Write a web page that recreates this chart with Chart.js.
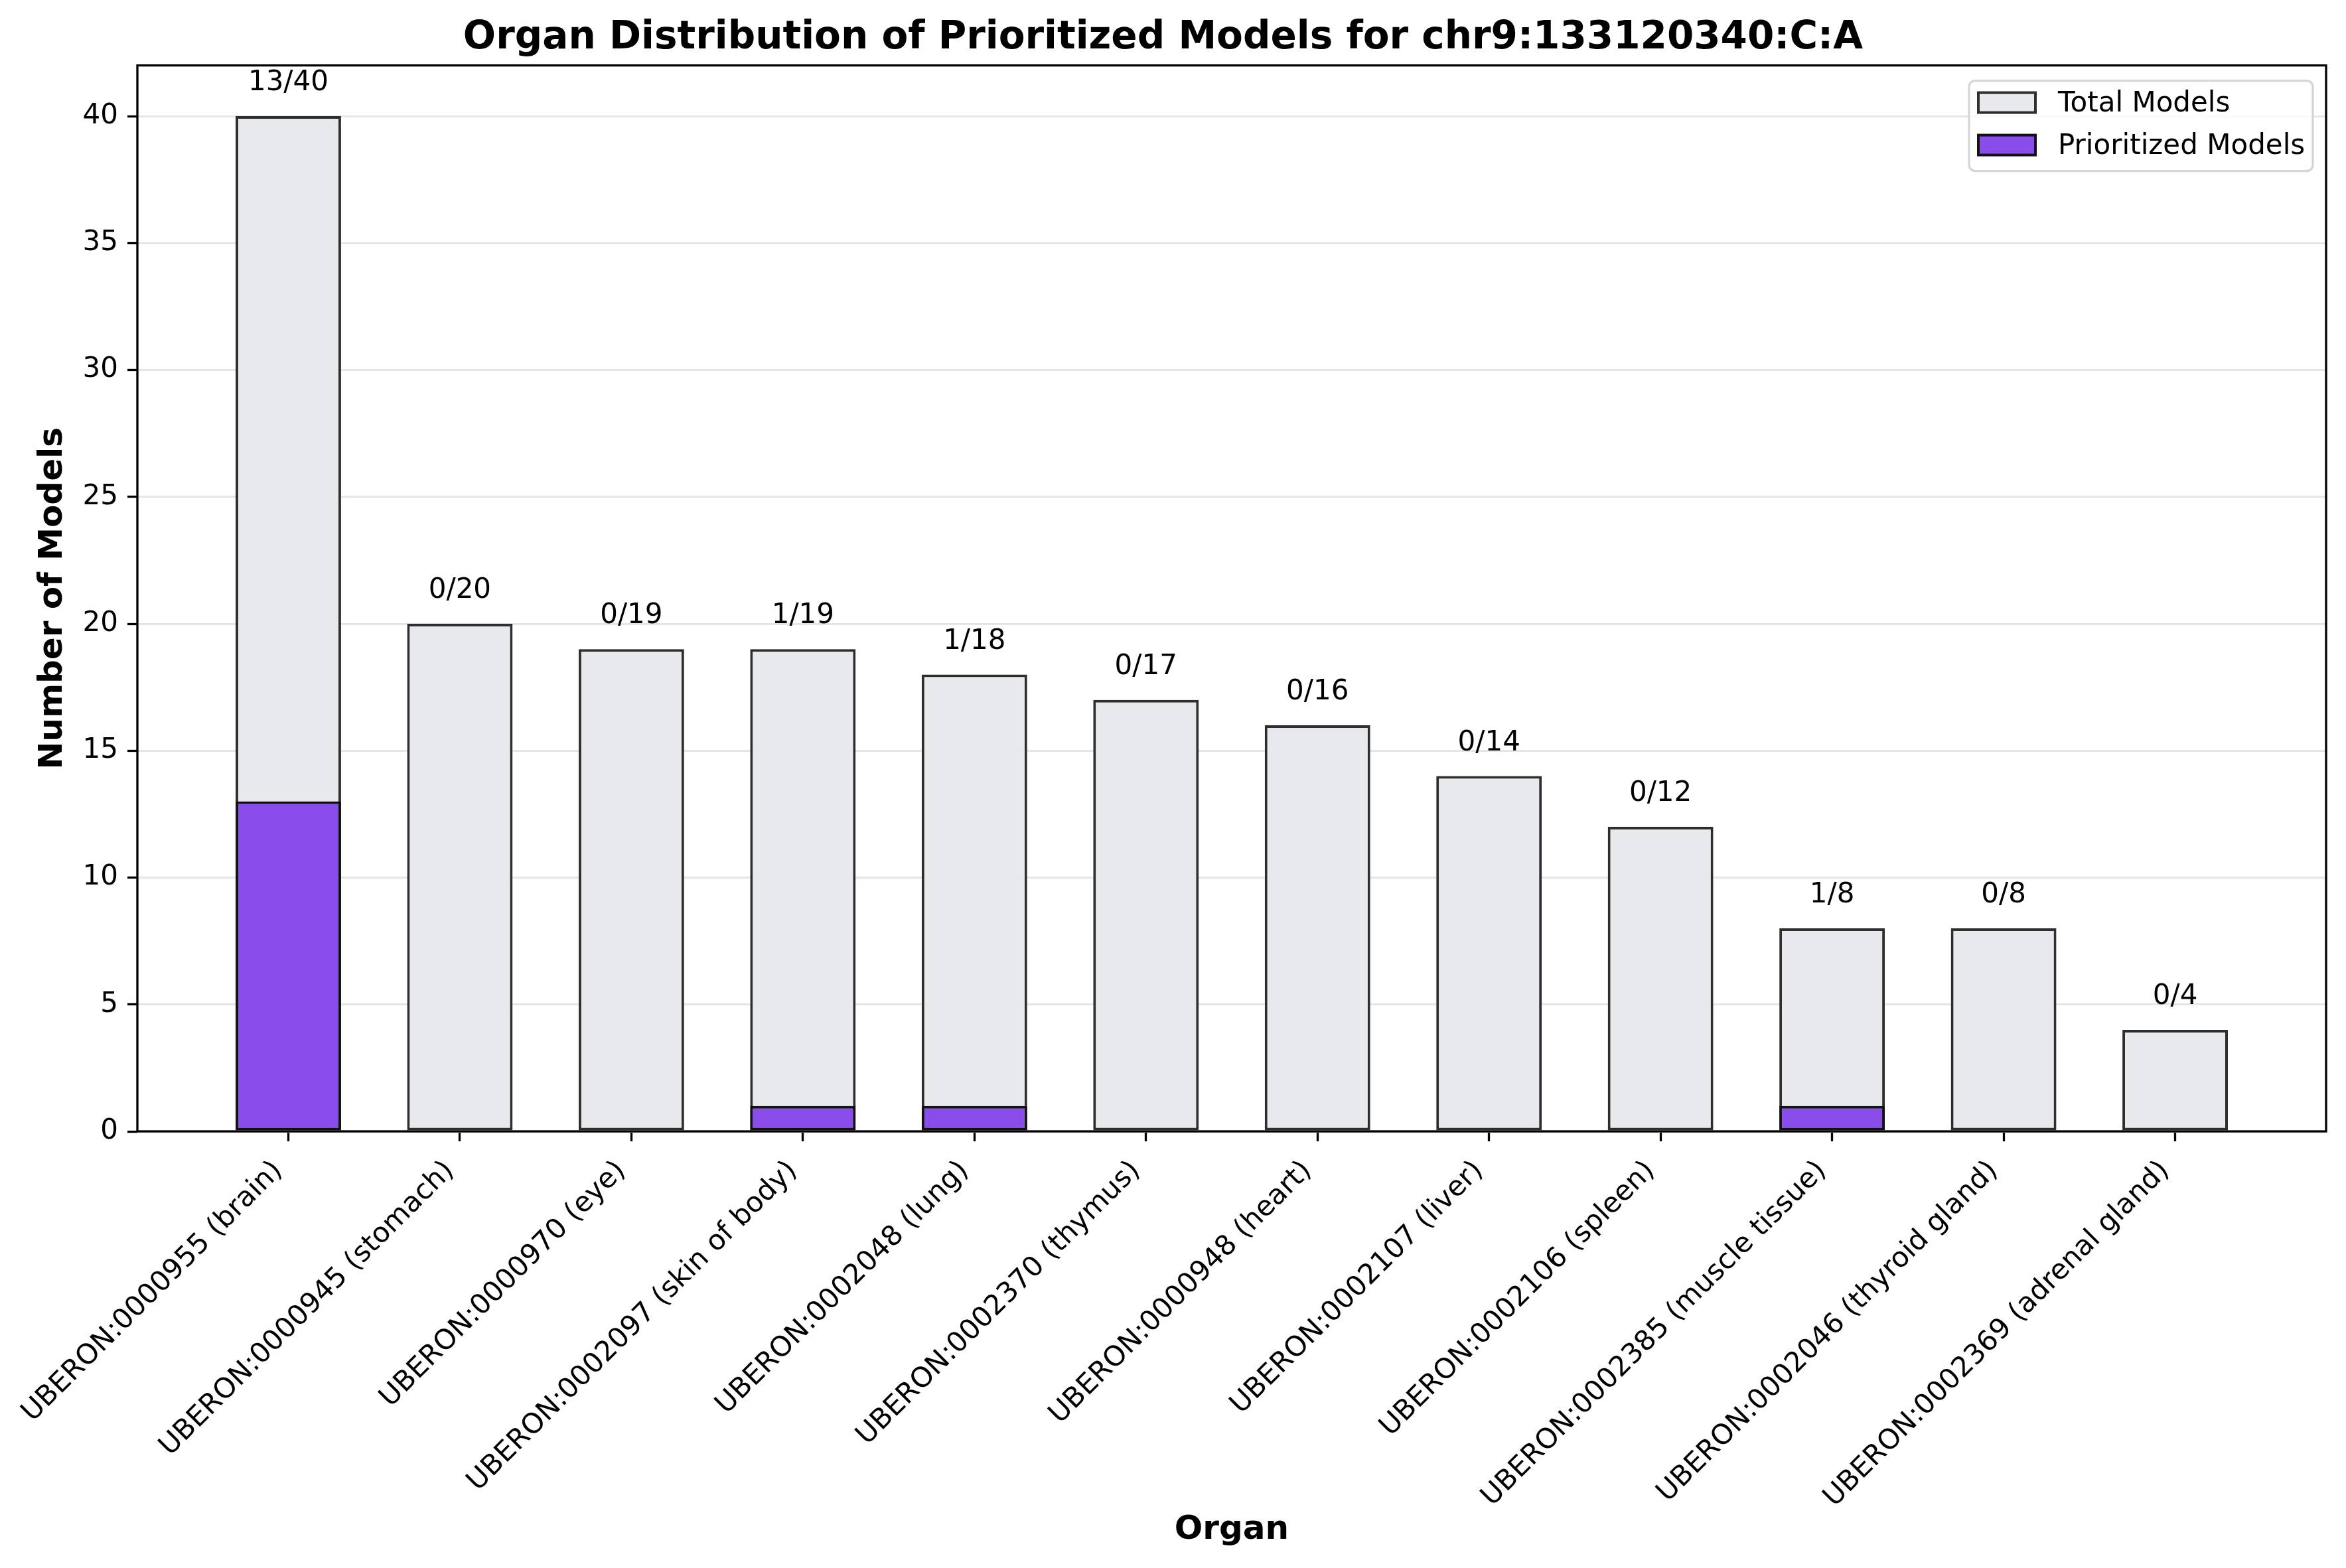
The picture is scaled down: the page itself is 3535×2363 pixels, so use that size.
<!DOCTYPE html>
<html>
<head>
<meta charset="utf-8">
<script src="https://cdn.jsdelivr.net/npm/chart.js@4"></script>
<style>
  html, body { margin: 0; padding: 0; background: #ffffff; }
  #wrap { width: 3535px; height: 2363px; }
</style>
</head>
<body>
<div id="wrap"><canvas id="c" width="3535" height="2363"></canvas></div>
<script>
// ---- data ----
const categories = [
  "UBERON:0000955 (brain)",
  "UBERON:0000945 (stomach)",
  "UBERON:0000970 (eye)",
  "UBERON:0002097 (skin of body)",
  "UBERON:0002048 (lung)",
  "UBERON:0002370 (thymus)",
  "UBERON:0000948 (heart)",
  "UBERON:0002107 (liver)",
  "UBERON:0002106 (spleen)",
  "UBERON:0002385 (muscle tissue)",
  "UBERON:0002046 (thyroid gland)",
  "UBERON:0002369 (adrenal gland)"
];
const totalModels = [40, 20, 19, 19, 18, 17, 16, 14, 12, 8, 8, 4];
const prioritizedModels = [13, 0, 0, 1, 1, 0, 0, 0, 0, 1, 0, 0];
const yTickValues = [0, 5, 10, 15, 20, 25, 30, 35, 40];
const seriesNames = ["Total Models", "Prioritized Models"];
const chartTitle = "Organ Distribution of Prioritized Models for chr9:133120340:C:A";
const xTitle = "Organ";
const yTitle = "Number of Models";

// ---- styles ----
const FONT = "'DejaVu Sans', 'Liberation Sans', sans-serif";
const GREY_FILL = "#e8e9ec";
const GREY_EDGE = "#2e2e2e";
const PURPLE_FILL = "#884deb";
const PURPLE_EDGE = "#141018";
const SPINE_W = 3.3;

const totalData = categories.map((c, i) => ({ x: i, y: totalModels[i] }));
const prioData = categories.map((c, i) => ({ x: i, y: prioritizedModels[i] }));

const valueLabels = {
  id: 'valueLabels',
  afterDatasetsDraw(chart) {
    const { ctx, scales: { x, y }, chartArea } = chart;
    ctx.save();
    // spines
    ctx.strokeStyle = '#000';
    ctx.lineWidth = SPINE_W;
    ctx.strokeRect(chartArea.left, chartArea.top, chartArea.right - chartArea.left, chartArea.bottom - chartArea.top);
    // bar labels
    ctx.fillStyle = '#000';
    ctx.font = "42px " + FONT;
    ctx.textAlign = 'center';
    ctx.textBaseline = 'alphabetic';
    categories.forEach((c, i) => {
      const px = x.getPixelForValue(i);
      const py = y.getPixelForValue(totalModels[i]) - 39;
      ctx.fillText(prioritizedModels[i] + "/" + totalModels[i], px, py);
    });
    ctx.restore();
  }
};

const boxLegend = {
  id: 'boxLegend',
  afterDraw(chart) {
    const { ctx, chartArea } = chart;
    const right = chartArea.right - 20;
    const left = right - 518;
    const top = chartArea.top + 23;
    const h = 136;
    ctx.save();
    ctx.beginPath();
    if (ctx.roundRect) ctx.roundRect(left, top, right - left, h, 9);
    else ctx.rect(left, top, right - left, h);
    ctx.fillStyle = 'rgba(255,255,255,0.8)';
    ctx.fill();
    ctx.lineWidth = 3.3;
    ctx.strokeStyle = '#d6d6d6';
    ctx.stroke();
    ctx.font = "42px " + FONT;
    ctx.textBaseline = 'middle';
    ctx.textAlign = 'left';
    chart.data.datasets.forEach((ds, i) => {
      const cy = top + 33 + i * 64;
      ctx.fillStyle = ds.backgroundColor;
      ctx.fillRect(left + 14, cy - 15, 86, 30);
      ctx.lineWidth = 4;
      ctx.strokeStyle = ds.borderColor;
      ctx.strokeRect(left + 14, cy - 15, 86, 30);
      ctx.fillStyle = '#000';
      ctx.fillText(ds.label, left + 134, cy + 2);
    });
    ctx.restore();
  }
};

new Chart(document.getElementById('c'), {
  type: 'bar',
  data: {
    datasets: [
      {
        label: seriesNames[0],
        data: totalData,
        backgroundColor: GREY_FILL,
        borderColor: GREY_EDGE,
        borderWidth: 4,
        borderSkipped: false,
        grouped: false,
        order: 1,
        categoryPercentage: 1.0,
        barPercentage: 0.615
      },
      {
        label: seriesNames[1],
        data: prioData,
        backgroundColor: PURPLE_FILL,
        borderColor: PURPLE_EDGE,
        borderWidth: 4,
        borderSkipped: false,
        grouped: false,
        order: 0,
        categoryPercentage: 1.0,
        barPercentage: 0.615
      }
    ]
  },
  options: {
    responsive: false,
    devicePixelRatio: 1,
    animation: false,
    layout: { padding: { top: 0, right: 30, bottom: 0, left: 0 } },
    plugins: {
      legend: { display: false },
      tooltip: { enabled: false },
      title: {
        display: true,
        text: chartTitle,
        color: '#000',
        font: { family: FONT, size: 58, weight: 'bold', lineHeight: 1.2 },
        padding: { top: 23, bottom: 6 }
      }
    },
    scales: {
      x: {
        type: 'linear',
        min: -0.88,
        max: 11.88,
        offset: false,
        border: { display: false },
        grid: {
          display: true,
          drawOnChartArea: false,
          drawTicks: true,
          offset: false,
          tickLength: 15,
          tickColor: '#000',
          tickWidth: SPINE_W
        },
        ticks: {
          autoSkip: false,
          minRotation: 45,
          maxRotation: 45,
          padding: 20,
          labelOffset: -15,
          color: '#000',
          font: { family: FONT, size: 42 },
          callback: (v) => categories[v]
        },
        afterBuildTicks: (scale) => { scale.ticks = categories.map((c, i) => ({ value: i })); },
        afterFit: (scale) => { scale.height = 658; scale.paddingLeft = 0; scale.paddingRight = 0; },
        title: {
          display: true,
          text: xTitle,
          color: '#000',
          font: { family: FONT, size: 50, weight: 'bold', lineHeight: 1.2 },
          padding: { top: 0, bottom: 27 }
        }
      },
      y: {
        type: 'linear',
        min: 0,
        max: 42,
        border: { display: false },
        grid: {
          display: true,
          drawOnChartArea: true,
          color: '#e6e6e6',
          lineWidth: 3,
          tickLength: 15,
          tickColor: '#000',
          tickWidth: SPINE_W
        },
        ticks: {
          padding: 14,
          color: '#000',
          font: { family: FONT, size: 42 }
        },
        afterBuildTicks: (scale) => { scale.ticks = yTickValues.map(v => ({ value: v })); },
        afterFit: (scale) => { scale.width = 207; scale.paddingTop = 0; scale.paddingBottom = 0; },
        title: {
          display: true,
          text: yTitle,
          color: '#000',
          font: { family: FONT, size: 50, weight: 'bold', lineHeight: 1.2 },
          padding: { top: 50, bottom: 0 }
        }
      }
    }
  },
  plugins: [valueLabels, boxLegend]
});
</script>
</body>
</html>
